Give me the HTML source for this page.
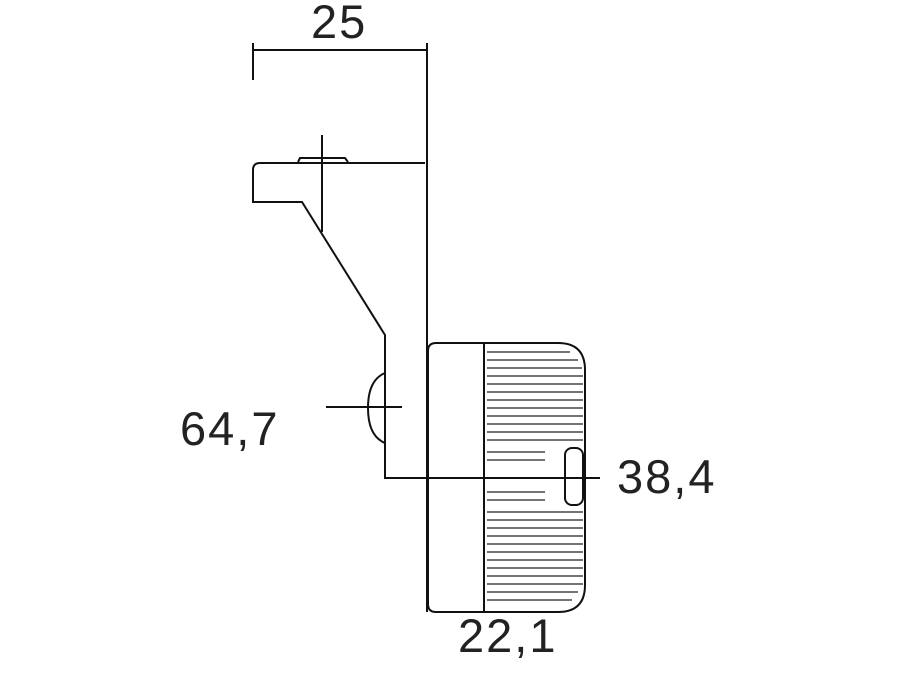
<!DOCTYPE html>
<html><head><style>
html,body{margin:0;padding:0;background:#fff;}
svg{display:block;}
text{font-family:"Liberation Sans",sans-serif;font-size:47px;fill:#222;letter-spacing:2px;}
</style></head><body>
<svg width="900" height="675" viewBox="0 0 900 675" xmlns="http://www.w3.org/2000/svg">
<g stroke="#111" stroke-width="2" fill="none">
<line x1="253" y1="50" x2="427" y2="50"/>
<line x1="253" y1="43" x2="253" y2="80"/>
<line x1="427" y1="43" x2="427" y2="612"/>
<path d="M298 162 L300 158 L345 158 L348 162"/>
<path d="M425 163 L260 163 Q253 163 253 170 L253 202 L302 202 L385 335 L385 478 L600 478"/>
<line x1="322" y1="135" x2="322" y2="232"/>
<path d="M385 373 Q368 380 368 408 Q368 436 385 443"/>
<line x1="326" y1="407" x2="402" y2="407"/>
<path d="M484 343 L436 343 Q428 343 428 351 L428 604 Q428 612 436 612 L484 612 Z"/>
<path d="M484 343 L558 343 Q585 343 585 370 L585 585 Q585 612 558 612 L484 612 Z"/>
<rect x="565" y="448" width="18" height="57" rx="7"/>
</g>
<g stroke="#222" stroke-width="1.3">
<line x1="487" y1="352" x2="570" y2="352"/>
<line x1="487" y1="360" x2="578" y2="360"/>
<line x1="487" y1="368" x2="582" y2="368"/>
<line x1="487" y1="376" x2="583" y2="376"/>
<line x1="487" y1="384" x2="583" y2="384"/>
<line x1="487" y1="392" x2="583" y2="392"/>
<line x1="487" y1="400" x2="583" y2="400"/>
<line x1="487" y1="408" x2="583" y2="408"/>
<line x1="487" y1="416" x2="583" y2="416"/>
<line x1="487" y1="424" x2="583" y2="424"/>
<line x1="487" y1="432" x2="583" y2="432"/>
<line x1="487" y1="440" x2="583" y2="440"/>
<line x1="487" y1="452" x2="545" y2="452"/>
<line x1="487" y1="460" x2="545" y2="460"/>
<line x1="487" y1="492" x2="545" y2="492"/>
<line x1="487" y1="500" x2="545" y2="500"/>
<line x1="487" y1="512" x2="583" y2="512"/>
<line x1="487" y1="520" x2="583" y2="520"/>
<line x1="487" y1="528" x2="583" y2="528"/>
<line x1="487" y1="536" x2="583" y2="536"/>
<line x1="487" y1="544" x2="583" y2="544"/>
<line x1="487" y1="552" x2="583" y2="552"/>
<line x1="487" y1="560" x2="583" y2="560"/>
<line x1="487" y1="568" x2="583" y2="568"/>
<line x1="487" y1="576" x2="583" y2="576"/>
<line x1="487" y1="584" x2="583" y2="584"/>
<line x1="487" y1="592" x2="578" y2="592"/>
<line x1="487" y1="600" x2="572" y2="600"/>
</g>
<text x="311" y="38">25</text>
<text x="180" y="445">64,7</text>
<text x="617" y="493">38,4</text>
<text x="458" y="652">22,1</text>
</svg>
</body></html>
